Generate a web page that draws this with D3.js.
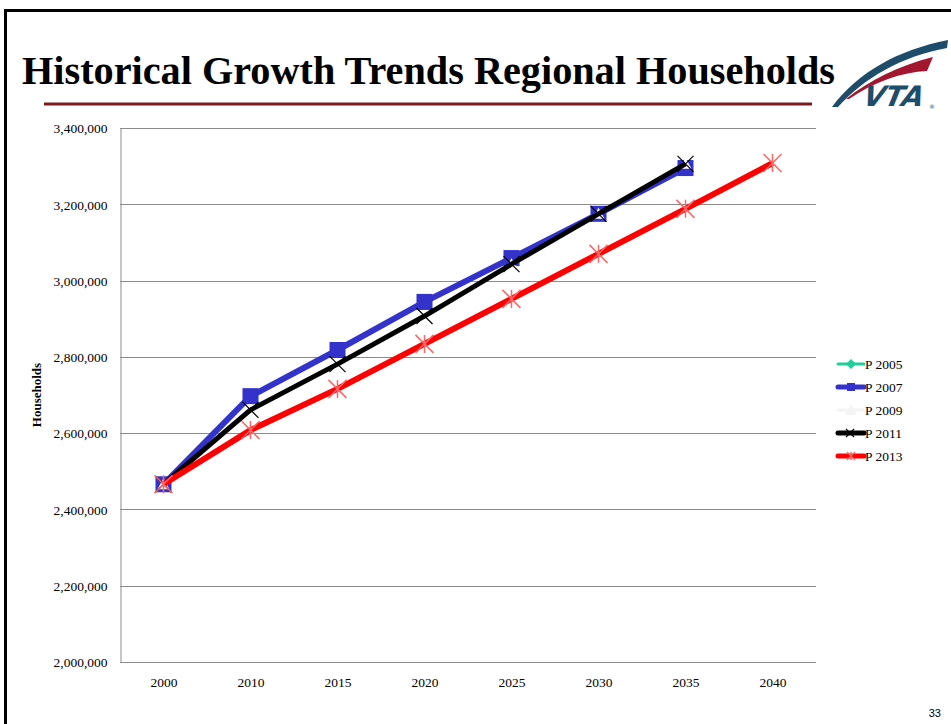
<!DOCTYPE html>
<html>
<head>
<meta charset="utf-8">
<script src="https://cdn.jsdelivr.net/npm/d3@7/dist/d3.min.js"></script>
<style>
  body { margin: 0; background: #fff; }
  svg { display: block; }
</style>
</head>
<body>
<script>
// data
var years = ["2000", "2010", "2015", "2020", "2025", "2030", "2035", "2040"];
var yTicks = [2000000, 2200000, 2400000, 2600000, 2800000, 3000000, 3200000, 3400000];

var p2005 = [2466000, 2697000, 2818000, 2944000, 3059000, 3175000, 3295000, null];
var p2007 = [2466000, 2697000, 2818000, 2944000, 3059000, 3175000, 3295000, null];
var p2009 = [2466000, 2661000, 2781000, 2907000, 3043000, 3175000, 3306000, null];
var p2011 = [2466000, 2661000, 2781000, 2907000, 3043000, 3175000, 3306000, null];
var p2013 = [2466000, 2608000, 2716000, 2834000, 2952000, 3070000, 3188000, 3308000];

var seriesNames = ["P 2005", "P 2007", "P 2009", "P 2011", "P 2013"];

var series = [
  { name: seriesNames[0], values: p2005, color: "#1fcf9a", width: 3, marker: "diamond" },
  { name: seriesNames[1], values: p2007, color: "#3333cc", width: 6, marker: "square" },
  { name: seriesNames[2], values: p2009, color: "#ffffff", width: 3, marker: "triangle" },
  { name: seriesNames[3], values: p2011, color: "#000000", width: 5, marker: "x" },
  { name: seriesNames[4], values: p2013, color: "#ff0000", width: 6, marker: "star" }
];

var w = 951, h = 724;
var plot = { left: 120, right: 816, top: 128, bottom: 662 };
var serif = "'Liberation Serif', 'Times New Roman', serif";

var svg = d3.select("body").append("svg")
  .attr("width", w)
  .attr("height", h);

// slide frame
svg.append("path")
  .attr("d", "M5.5," + h + "V10.5H" + w)
  .attr("fill", "none")
  .attr("stroke", "#000")
  .attr("stroke-width", 3);

// title
svg.append("text")
  .attr("x", 22)
  .attr("y", 84)
  .attr("font-family", serif)
  .attr("font-weight", "bold")
  .attr("font-size", 40)
  .attr("fill", "#000")
  .attr("textLength", 813)
  .attr("lengthAdjust", "spacingAndGlyphs")
  .text("Historical Growth Trends Regional Households");

svg.append("line")
  .attr("x1", 44).attr("x2", 812)
  .attr("y1", 104).attr("y2", 104)
  .attr("stroke", "#7a1a1e")
  .attr("stroke-width", 3);

// VTA logo (rough)
var logo = svg.append("g");
logo.append("path")
  .attr("d", "M832,107 C858,72 898,50 948,40 L947,48 C902,56 864,78 838,107 Z")
  .attr("fill", "#1d4d6b");
logo.append("path")
  .attr("d", "M846,99 C870,80 898,66 933,57 L927,71 C902,72 874,82 849,99 Z")
  .attr("fill", "#a3162f");
logo.append("text")
  .attr("x", 0)
  .attr("y", 0)
  .attr("transform", "translate(860,106) skewX(-22)")
  .attr("font-family", "'DejaVu Sans', sans-serif")
  .attr("font-weight", "bold")
  .attr("font-size", 28)
  .attr("fill", "#1d4d6b")
  .attr("textLength", 60)
  .attr("lengthAdjust", "spacingAndGlyphs")
  .text("VTA");
logo.append("text")
  .attr("x", 929)
  .attr("y", 109)
  .attr("font-family", "'DejaVu Sans', sans-serif")
  .attr("font-size", 6)
  .attr("fill", "#1d4d6b")
  .text("\u00ae");

// scales
var x = d3.scalePoint()
  .domain(years)
  .range([plot.left, plot.right])
  .padding(0.5);

var y = d3.scaleLinear()
  .domain([2000000, 3400000])
  .range([plot.bottom, plot.top]);

// gridlines
svg.append("g")
  .selectAll("line")
  .data(yTicks)
  .enter()
  .append("line")
  .attr("x1", plot.left)
  .attr("x2", plot.right)
  .attr("y1", function(d) { return Math.round(y(d)) + 0.5; })
  .attr("y2", function(d) { return Math.round(y(d)) + 0.5; })
  .attr("stroke", "#8c8c8c")
  .attr("stroke-width", 1);

// y axis
var yAxis = svg.append("g")
  .attr("transform", "translate(" + (plot.left + 0.5) + ",0.5)")
  .call(d3.axisLeft(y).tickValues(yTicks).tickSize(0).tickPadding(13).tickFormat(d3.format(",")));
yAxis.select(".domain").attr("stroke", "#8c8c8c");
yAxis.selectAll("text")
  .attr("font-family", serif)
  .attr("font-size", 13.5)
  .attr("fill", "#000");

// x axis
var xAxis = svg.append("g")
  .attr("transform", "translate(0," + (plot.bottom + 0.5) + ")")
  .call(d3.axisBottom(x).tickSize(0).tickPadding(15));
xAxis.select(".domain").attr("d", "M" + plot.left + ",0H" + plot.right).attr("stroke", "#8c8c8c");
xAxis.selectAll("text")
  .attr("font-family", serif)
  .attr("font-size", 13.5)
  .attr("fill", "#000");

// axis title
svg.append("text")
  .attr("transform", "translate(41," + ((plot.top + plot.bottom) / 2) + ") rotate(-90)")
  .attr("text-anchor", "middle")
  .attr("font-family", serif)
  .attr("font-weight", "bold")
  .attr("font-size", 13)
  .text("Households");

// lines
var line = d3.line()
  .defined(function(d) { return d != null; })
  .x(function(d, i) { return x(years[i]); })
  .y(function(d) { return y(d); });

function drawMarker(g, type, color, cx, cy) {
  if (type == "square") {
    g.append("rect")
      .attr("x", cx - 8).attr("y", cy - 8)
      .attr("width", 16).attr("height", 16)
      .attr("fill", color);
  } else if (type == "diamond") {
    g.append("path")
      .attr("d", "M" + cx + "," + (cy - 5) + "L" + (cx + 5) + "," + cy + "L" + cx + "," + (cy + 5) + "L" + (cx - 5) + "," + cy + "Z")
      .attr("fill", color);
  } else if (type == "triangle") {
    g.append("path")
      .attr("d", "M" + cx + "," + (cy - 6) + "L" + (cx + 6) + "," + (cy + 5) + "L" + (cx - 6) + "," + (cy + 5) + "Z")
      .attr("fill", color);
  } else if (type == "x") {
    g.append("path")
      .attr("d", "M" + (cx - 8) + "," + (cy - 8) + "L" + (cx + 8) + "," + (cy + 8) + "M" + (cx + 8) + "," + (cy - 8) + "L" + (cx - 8) + "," + (cy + 8))
      .attr("stroke", color)
      .attr("stroke-width", 1.2);
  } else if (type == "star") {
    g.append("path")
      .attr("d", "M" + (cx - 9) + "," + (cy - 9) + "L" + (cx + 9) + "," + (cy + 9) + "M" + (cx + 9) + "," + (cy - 9) + "L" + (cx - 9) + "," + (cy + 9) + "M" + cx + "," + (cy - 9) + "L" + cx + "," + (cy + 9))
      .attr("stroke", "#ff6666")
      .attr("stroke-width", 1.5);
  }
}

series.forEach(function(s) {
  var g = svg.append("g").attr("class", "series");
  g.append("path")
    .datum(s.values)
    .attr("d", line)
    .attr("fill", "none")
    .attr("stroke", s.color)
    .attr("stroke-width", s.width)
    .attr("stroke-linejoin", "round");
  s.values.forEach(function(v, i) {
    if (v == null) return;
    drawMarker(g, s.marker, s.color, x(years[i]), y(v));
  });
});

// legend
var legend = svg.append("g");
series.forEach(function(s, i) {
  var ly = 364 + i * 23;
  var row = legend.append("g");
  row.append("line")
    .attr("x1", 838).attr("x2", 864)
    .attr("y1", ly).attr("y2", ly)
    .attr("stroke", s.color == "#ffffff" ? "#f4f4f4" : s.color)
    .attr("stroke-width", s.width == 3 ? 3 : 5)
    .attr("stroke-linecap", "round");
  if (s.marker == "square") {
    row.append("rect").attr("x", 847).attr("y", ly - 4).attr("width", 8).attr("height", 8).attr("fill", s.color);
  } else if (s.marker == "diamond") {
    drawMarker(row, "diamond", s.color, 851, ly);
  } else if (s.marker == "triangle") {
    drawMarker(row, "triangle", "#f4f4f4", 851, ly);
  } else if (s.marker == "x") {
    row.append("path")
      .attr("d", "M846," + (ly - 4) + "L854," + (ly + 4) + "M854," + (ly - 4) + "L846," + (ly + 4))
      .attr("stroke", "#000").attr("stroke-width", 1.2);
  } else {
    row.append("path")
      .attr("d", "M847," + (ly - 4) + "L855," + (ly + 4) + "M855," + (ly - 4) + "L847," + (ly + 4) + "M851," + (ly - 4) + "L851," + (ly + 4))
      .attr("stroke", "#ff6666").attr("stroke-width", 1.2);
  }
  row.append("text")
    .attr("x", 865)
    .attr("y", ly + 4.5)
    .attr("font-family", serif)
    .attr("font-size", 13.5)
    .attr("fill", "#000")
    .text(s.name);
});

// page number
svg.append("text")
  .attr("x", 941)
  .attr("y", 717)
  .attr("text-anchor", "end")
  .attr("font-family", "'Liberation Sans', Arial, sans-serif")
  .attr("font-size", 11)
  .text("33");
</script>
</body>
</html>
